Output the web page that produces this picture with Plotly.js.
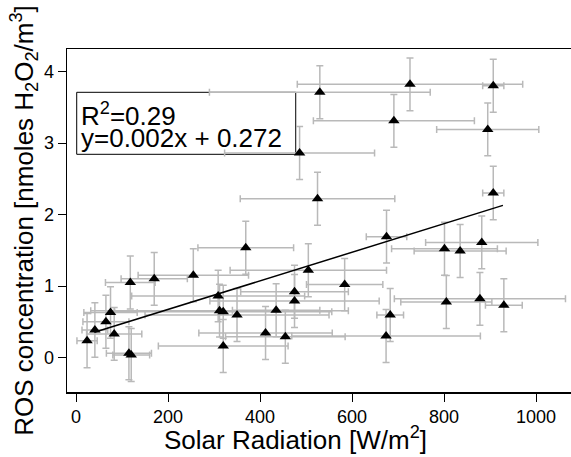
<!DOCTYPE html>
<html>
<head>
<meta charset="utf-8">
<script src="https://cdn.plot.ly/plotly-3.0.1.min.js"></script>
<style>html,body{margin:0;padding:0;background:#fff;}#chart{width:571px;height:457px;}</style>
</head>
<body>
<div id="chart"></div>
<script>
// Solar radiation (W/m2) and ROS concentration (nmoles H2O2/m3)
var solar   = [24, 41, 65, 75, 83, 115, 120, 118, 170, 255, 369, 309, 312, 320, 350, 320, 412, 435, 455, 475, 475, 505, 675, 801, 835, 584, 805, 683, 674, 907, 895, 907, 882, 878, 930, 530, 726, 691, 486, 525];
var ros     = [0.235, 0.385, 0.50, 0.63, 0.33, 0.06, 0.035, 1.05, 1.10, 1.15, 1.535, 0.86, 0.655, 0.64, 0.594, 0.16, 0.343, 0.66, 0.29, 0.92, 0.79, 1.22, 1.69, 1.52, 1.49, 1.02, 0.776, 0.594, 0.30, 3.80, 3.19, 2.30, 1.61, 0.82, 0.73, 3.71, 3.82, 3.31, 2.86, 2.22];
var solarErr = [22, 28, 50, 58, 60, 49, 40, 54, 72, 120, 104, 188, 280, 236, 200, 141, 145, 95, 130, 117, 184, 170, 44, 115, 100, 83, 99, 29, 205, 23, 111, 23, 122, 186, 40, 240, 245, 175, 163, 168];
var rosErr  = [0.38, 0.38, 0.37, 0.36, 0.37, 0.37, 0.37, 0.37, 0.37, 0.37, 0.37, 0.36, 0.37, 0.37, 0.37, 0.37, 0.37, 0.37, 0.37, 0.37, 0.37, 0.37, 0.37, 0.37, 0.37, 0.365, 0.37, 0.37, 0.37, 0.37, 0.37, 0.375, 0.37, 0.37, 0.37, 0.37, 0.37, 0.37, 0.37, 0.37];

// Linear fit
var fitSlope = 0.002;
var fitIntercept = 0.272;
var fitXRange = [40, 928];
var fitR2 = 0.29;

var xTicks = [0, 200, 400, 600, 800, 1000];
var yTicks = [0, 1, 2, 3, 4];

var xTitle = "Solar Radiation [W/m<sup>2</sup>]";
var yTitle = "ROS concentration [nmoles H<sub>2</sub>O<sub>2</sub>/m<sup>3</sup>]";

var font = "Liberation Sans, Arial, Helvetica, sans-serif";
var errColor = "#b9b9b9";

var points = {
  x: solar, y: ros, type: "scatter", mode: "markers",
  marker: {symbol: "triangle-up", size: 10, color: "#000"},
  error_x: {type: "data", array: solarErr, symmetric: true, color: errColor, thickness: 1.5, width: 3.5},
  error_y: {type: "data", array: rosErr, symmetric: true, color: errColor, thickness: 1.5, width: 3.5},
  hoverinfo: "x+y", showlegend: false
};

var fitLine = {
  x: fitXRange,
  y: fitXRange.map(function(v){ return fitSlope * v + fitIntercept; }),
  type: "scatter", mode: "lines",
  line: {color: "#000", width: 1.5},
  showlegend: false, hoverinfo: "skip"
};

var layout = {
  width: 571, height: 457,
  margin: {l: 67, r: 0, t: 49, b: 65, pad: 0},
  paper_bgcolor: "#fff", plot_bgcolor: "#fff",
  font: {family: font, color: "#000"},
  showlegend: false,
  xaxis: {
    range: [-19.6, 1076], tickvals: xTicks, ticktext: xTicks.map(String),
    showgrid: false, zeroline: false,
    showline: true, linecolor: "#000", linewidth: 1.5, mirror: true,
    ticks: "outside", ticklen: 8, tickwidth: 1, tickcolor: "#000",
    tickfont: {family: font, size: 18, color: "#000"}
  },
  yaxis: {
    range: [-0.4825, 4.3147], tickvals: yTicks, ticktext: yTicks.map(String),
    showgrid: false, zeroline: false,
    showline: true, linecolor: "#000", linewidth: 1.5, mirror: false,
    ticks: "outside", ticklen: 8, tickwidth: 1, tickcolor: "#000",
    tickfont: {family: font, size: 18, color: "#000"},
    title: {text: yTitle, font: {family: font, size: 26, color: "#000"}, standoff: 3}
  },
  shapes: [{
    type: "rect", xref: "x", yref: "y",
    x0: 1.5, x1: 477.6, y0: 2.842, y1: 3.709,
    line: {color: "#000", width: 1}, fillcolor: "rgba(255,255,255,0)", layer: "below"
  }],
  annotations: [
    {xref: "x", yref: "y", x: 6.5, y: 3.40, xanchor: "left", yanchor: "middle", showarrow: false,
     text: "R<sup>2</sup>=" + fitR2.toFixed(2), font: {family: font, size: 26, color: "#000"}},
    {xref: "x", yref: "y", x: 6.5, y: 3.07, xanchor: "left", yanchor: "middle", showarrow: false,
     text: "y=" + fitSlope + "x + " + fitIntercept, font: {family: font, size: 26, color: "#000"}},
    {xref: "paper", yref: "paper", x: 0.454, y: -0.1895, xanchor: "center", yanchor: "bottom", showarrow: false,
     text: xTitle, font: {family: font, size: 26, color: "#000"}}
  ]
};

Plotly.newPlot("chart", [points, fitLine], layout, {staticPlot: true, displayModeBar: false});
</script>
</body>
</html>
